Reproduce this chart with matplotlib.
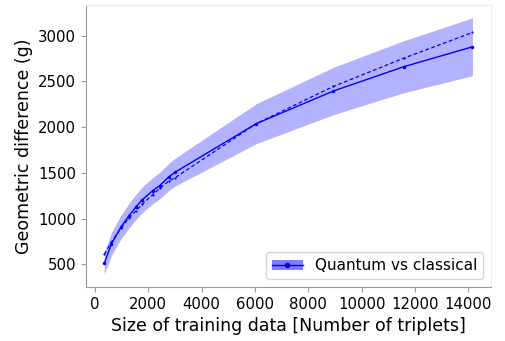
import matplotlib
matplotlib.use('Agg')
import matplotlib.pyplot as plt
from matplotlib.patches import Patch
from matplotlib.lines import Line2D
import numpy as np

# training set sizes (number of triplets)
sizes = [350, 620, 970, 1270, 1530, 1780, 2160, 2430, 2770, 3000, 6050, 8940, 11570, 14150]
# quantum (solid) and classical (dashed) geometric difference
quantum = [511, 725, 904, 1029, 1125, 1207, 1304, 1361, 1457, 1507, 2039, 2396, 2661, 2879]
classical = [611, 743, 896, 1004, 1082, 1161, 1261, 1332, 1411, 1446, 2039, 2446, 2754, 3036]
# half-width of the shaded band around the quantum curve
spread = [120, 125, 130, 135, 138, 140, 143, 145, 148, 152, 218, 259, 284, 316]

q = np.array(quantum)
s = np.array(spread)

fig = plt.figure(figsize=(5.05, 3.41), dpi=100)
ax = fig.add_axes([0.170, 0.158, 0.802, 0.827])

ax.fill_between(sizes, q - s, q + s, color='blue', alpha=0.3, linewidth=0)
ax.plot(sizes, quantum, color='blue', marker='o', markersize=1.5, linewidth=1)
ax.plot(sizes, classical, color='blue', linestyle=(0, (3, 2)), marker='o',
        markersize=0.6, linewidth=0.9)

ax.set_xlabel('Size of training data [Number of triplets]', fontsize=12.5)
ax.set_ylabel('Geometric difference (g)', fontsize=12.5)
ax.tick_params(labelsize=10.7, color='#999999')
ax.set_xticks(range(0, 14001, 2000))
ax.set_yticks(range(500, 3001, 500))

for side in ['left', 'bottom']:
    ax.spines[side].set_color('#999999')
for side in ['top', 'right']:
    ax.spines[side].set_color('#eeeeee')

handle = (Patch(color='blue', alpha=0.5, linewidth=0),
          Line2D([], [], color='blue', marker='o', markersize=3, linewidth=1))
ax.legend([handle], ['Quantum vs classical'], loc='lower right', fontsize=11)

plt.savefig('out.png')
